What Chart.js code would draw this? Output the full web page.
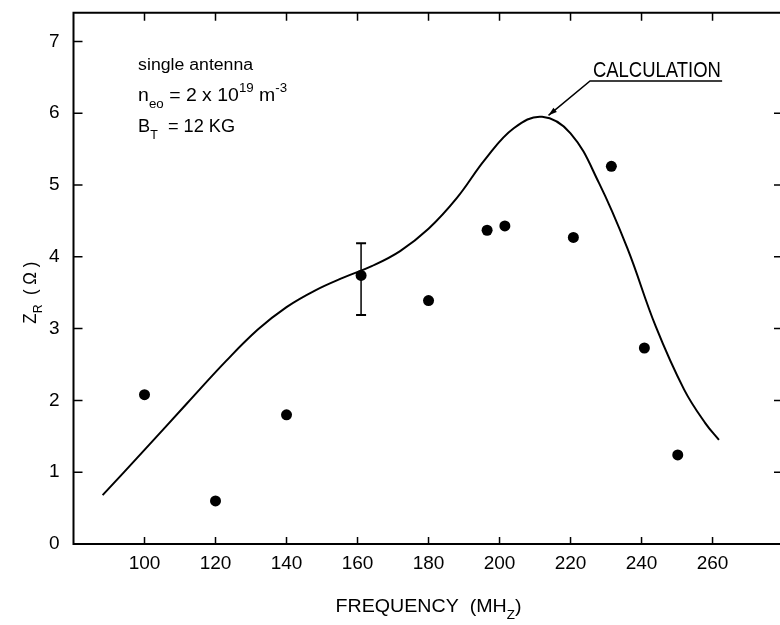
<!DOCTYPE html>
<html>
<head>
<meta charset="utf-8">
<script src="https://cdn.jsdelivr.net/npm/chart.js@4.4.1/dist/chart.umd.min.js"></script>
<style>
  html, body { margin: 0; padding: 0; background: #fff; overflow: hidden; }
</style>
</head>
<body>
<canvas id="myChart" width="780" height="625"></canvas>
<script>
// tick labels
const xTicks = [100, 120, 140, 160, 180, 200, 220, 240, 260];
const yTicks = [0, 1, 2, 3, 4, 5, 6, 7];

// measured points (MHz, ohm)
const measuredFreq = [100, 120, 140, 161, 180, 196.5, 201.5, 220.8, 231.5, 240.8, 250.2];
const measuredZ = [2.08, 0.6, 1.8, 3.74, 3.39, 4.37, 4.43, 4.27, 5.26, 2.73, 1.24];

// error bar on the 161 MHz point
const errorFreq = [161, 161];
const errorZ = [3.19, 4.19];

// calculated curve
const calcFreq = [88.2, 100, 112, 123, 132, 140, 148, 156, 164, 172, 180, 188, 196, 204,
  212, 220, 228, 236, 244, 252, 258, 261.8];
const calcZ = [0.68, 1.31, 1.96, 2.55, 2.99, 3.3, 3.53, 3.71, 3.87, 4.08, 4.39, 4.82, 5.36, 5.79,
  5.95, 5.72, 5.03, 4.12, 3.03, 2.15, 1.68, 1.45];

const toPoints = (xs, ys) => xs.map((v, i) => ({ x: v, y: ys[i] }));

const textFont = "'Liberation Sans', Arial, sans-serif";

// draws text made of normal / sub / sup pieces, squeezed to a given width
function drawRuns(ctx, runs, size, width) {
  const small = Math.round(size * 0.7);
  const fontFor = k => (k === 'n' ? size : small) + 'px ' + textFont;
  let natural = 0;
  runs.forEach(([t, k]) => {
    ctx.font = fontFor(k);
    natural += ctx.measureText(t).width;
  });
  ctx.scale(width / natural, 1);
  let cx = 0;
  runs.forEach(([t, k]) => {
    ctx.font = fontFor(k);
    const dy = k === 'sub' ? size * 0.35 : k === 'sup' ? -size * 0.5 : 0;
    ctx.fillText(t, cx, dy);
    cx += ctx.measureText(t).width;
  });
}

const framePlugin = {
  id: 'frame',
  afterDatasetsDraw(chart) {
    const { ctx, chartArea: a, scales: { x, y } } = chart;
    ctx.save();
    ctx.strokeStyle = '#000';
    ctx.lineWidth = 2;
    ctx.beginPath();
    ctx.moveTo(a.right, a.top);
    ctx.lineTo(a.left, a.top);
    ctx.lineTo(a.left, a.bottom);
    ctx.lineTo(a.right, a.bottom);
    ctx.stroke();

    ctx.lineWidth = 1.5;
    ctx.beginPath();
    xTicks.forEach(v => {
      const px = x.getPixelForValue(v);
      ctx.moveTo(px, a.bottom);
      ctx.lineTo(px, a.bottom - 7);
      ctx.moveTo(px, a.top);
      ctx.lineTo(px, a.top + 8);
    });
    yTicks.slice(1).forEach(v => {
      const py = y.getPixelForValue(v);
      ctx.moveTo(a.left, py);
      ctx.lineTo(a.left + 9, py);
    });
    yTicks.slice(1, 7).forEach(v => {
      const py = y.getPixelForValue(v);
      ctx.moveTo(a.right - 6, py);
      ctx.lineTo(a.right, py);
    });
    ctx.stroke();
    ctx.restore();
  },
  afterDraw(chart) {
    const { ctx, chartArea: a, scales: { x, y } } = chart;
    ctx.save();
    ctx.fillStyle = '#000';
    ctx.strokeStyle = '#000';
    ctx.textBaseline = 'alphabetic';
    ctx.textAlign = 'left';

    const put = (fx, vy, runs, size, width) => {
      ctx.save();
      ctx.translate(x.getPixelForValue(fx), y.getPixelForValue(vy));
      drawRuns(ctx, runs, size, width);
      ctx.restore();
    };

    put(98.2, 6.6, [['single antenna', 'n']], 16, 115);
    put(98.2, 6.17, [['n', 'n'], ['eo', 'sub'], [' = 2 x 10', 'n'], ['19', 'sup'], [' m', 'n'], ['-3', 'sup']], 19, 149);
    put(98.2, 5.74, [['B', 'n'], ['T', 'sub'], ['  = 12 KG', 'n']], 19, 97);
    put(226.3, 6.5, [['CALCULATION', 'n']], 22, 128);

    // underline and leader to the curve peak
    const ux0 = x.getPixelForValue(225.5), ux1 = x.getPixelForValue(262.7);
    const uy = y.getPixelForValue(6.45);
    const tx = x.getPixelForValue(213.8), ty = y.getPixelForValue(5.97);
    ctx.lineWidth = 1.5;
    ctx.beginPath();
    ctx.moveTo(ux1, uy);
    ctx.lineTo(ux0, uy);
    ctx.lineTo(tx, ty);
    ctx.stroke();
    const ang = Math.atan2(ty - uy, tx - ux0);
    ctx.beginPath();
    ctx.moveTo(tx, ty);
    ctx.lineTo(tx - 9 * Math.cos(ang - 0.3), ty - 9 * Math.sin(ang - 0.3));
    ctx.lineTo(tx - 9 * Math.cos(ang + 0.3), ty - 9 * Math.sin(ang + 0.3));
    ctx.closePath();
    ctx.fill();

    // axis titles
    ctx.save();
    ctx.translate(x.getPixelForValue(180) - 93, a.bottom + 68);
    drawRuns(ctx, [['FREQUENCY  (MH', 'n'], ['Z', 'sub'], [')', 'n']], 19, 186);
    ctx.restore();

    ctx.save();
    ctx.translate(36, y.getPixelForValue(3.5) + 31);
    ctx.rotate(-Math.PI / 2);
    drawRuns(ctx, [['Z', 'n'], ['R', 'sub'], ['  ( Ω )', 'n']], 18, 62);
    ctx.restore();

    ctx.restore();
  }
};

const ctx = document.querySelector('#myChart').getContext('2d');

new Chart(ctx, {
  type: 'scatter',
  data: {
    datasets: [
      {
        label: 'Calculation',
        data: toPoints(calcFreq, calcZ),
        showLine: true,
        tension: 0.4,
        borderColor: '#000',
        borderWidth: 2,
        pointRadius: 0,
      },
      {
        label: 'Error',
        data: toPoints(errorFreq, errorZ),
        showLine: true,
        borderColor: '#000',
        borderWidth: 1.5,
        pointStyle: 'line',
        pointRadius: 5,
        pointBorderWidth: 2,
        pointBorderColor: '#000',
      },
      {
        label: 'Measured',
        data: toPoints(measuredFreq, measuredZ),
        backgroundColor: '#000',
        borderColor: '#000',
        pointRadius: 5.5,
        pointBorderWidth: 0,
      },
    ],
  },
  options: {
    responsive: false,
    animation: false,
    devicePixelRatio: 1,
    layout: { autoPadding: false, padding: { top: 12.7, left: 0, right: 0, bottom: 0 } },
    plugins: {
      legend: { display: false },
      tooltip: { enabled: false },
    },
    scales: {
      x: {
        type: 'linear',
        min: 80,
        max: 279,
        grid: { display: false, drawTicks: false },
        border: { display: false },
        afterBuildTicks: axis => { axis.ticks = xTicks.map(v => ({ value: v })); },
        afterFit: scale => {
          scale.height = 81;
          scale.paddingLeft = 0;
          scale.paddingRight = 0;
        },
        ticks: {
          color: '#000',
          padding: 8,
          maxRotation: 0,
          font: { family: textFont, size: 19 },
        },
      },
      y: {
        min: 0,
        max: 7.4,
        grid: { display: false, drawTicks: false },
        border: { display: false },
        afterBuildTicks: axis => { axis.ticks = yTicks.map(v => ({ value: v })); },
        afterFit: scale => {
          scale.width = 73.5;
          scale.paddingTop = 0;
          scale.paddingBottom = 0;
        },
        ticks: {
          color: '#000',
          padding: 14,
          font: { family: textFont, size: 19 },
        },
      },
    },
  },
  plugins: [framePlugin],
});
</script>
</body>
</html>
